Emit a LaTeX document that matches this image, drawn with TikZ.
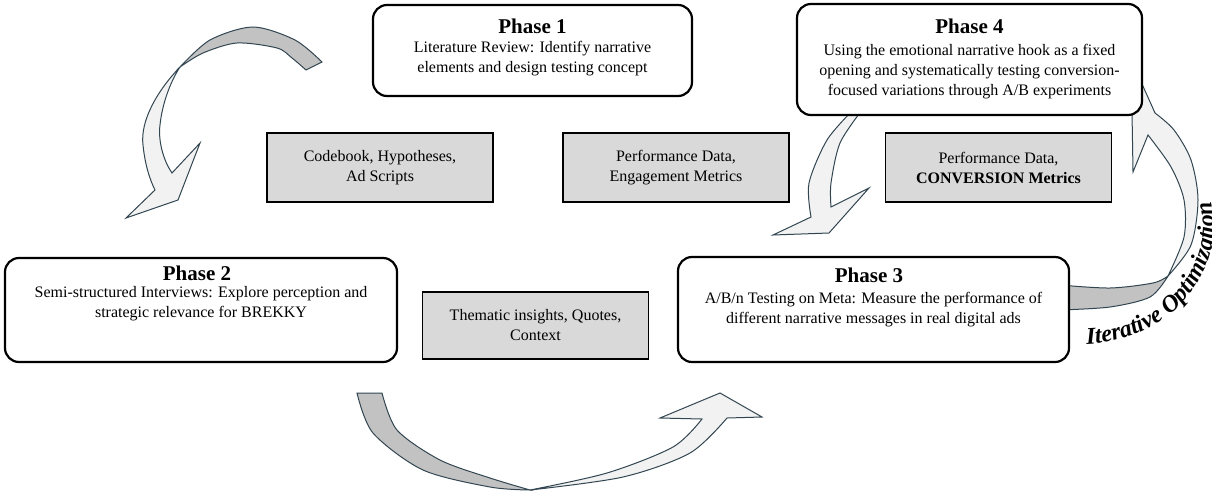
\documentclass[tikz,border=0pt]{standalone}
\usepackage{fontspec}
\setmainfont{Liberation Serif}
\usetikzlibrary{decorations.text}

\definecolor{arrowline}{RGB}{50,70,82}
\definecolor{arrowlight}{RGB}{242,242,242}
\definecolor{arrowdark}{RGB}{194,194,194}
\definecolor{boxgray}{RGB}{217,217,217}

\begin{document}
\begin{tikzpicture}[x=1pt, y=-1pt]
    \tikzstyle{phase} = [rectangle, rounded corners=14pt, draw=black, line width=2.2pt, fill=white]
    \tikzstyle{output} = [rectangle, draw=black, line width=1.8pt, fill=boxgray,
        minimum width=226pt, minimum height=69pt, align=center, font=\fontsize{16}{20}\selectfont]
    \tikzstyle{heading} = [anchor=base, inner sep=0pt, font=\fontsize{21}{24}\selectfont\bfseries]
    \tikzstyle{body} = [anchor=north, inner sep=0pt, align=center, font=\fontsize{16}{20}\selectfont]
    \tikzstyle{front} = [draw=arrowline, line width=1pt, fill=arrowlight]
    \tikzstyle{back} = [draw=arrowline, line width=1pt, fill=arrowdark]

    \useasboundingbox (0,0) rectangle (1212,490);
    \clip (0,0) rectangle (1212,490);

    % Curved arrows -------------------------------------
    % Phase 1 -> Phase 2
    \filldraw[back] plot[smooth] coordinates {(180,67) (210,40) (253,27) (295,40) (322,62)}
        -- (306,70) -- plot[smooth] coordinates {(306,70) (292,58) (277,48) (237,43) (203,53) (180,67)} -- cycle;
    \filldraw[front] (180,67) .. controls (158,90) and (140,120) .. (143,145)
        .. controls (145,165) and (150,180) .. (155,190)
        -- (126,218) -- (178,200) -- (200,143) -- (172,173)
        .. controls (163,160) and (158,140) .. (160,125)
        .. controls (162,105) and (170,82) .. (180,67) -- cycle;

    % Phase 2 -> Phase 3
    \filldraw[back] plot[smooth] coordinates {(357,393) (373,433) (423,470) (490,487) (530,490)}
        -- plot[smooth] coordinates {(530,490) (490,478) (440,460) (397,430) (382,393)} -- cycle;
    \filldraw[front] plot[smooth] coordinates {(530,490) (623,477) (690,453) (727,418)}
        -- (762,417) -- (720,393) -- (660,418) -- (702,419)
        -- plot[smooth] coordinates {(702,419) (673,447) (607,473) (530,490)} -- cycle;

    % Phase 3 -> Phase 4 (iterative loop)
    \filldraw[back] plot[smooth] coordinates {(1060,285) (1110,288) (1153,283) (1168,276)}
        -- plot[smooth] coordinates {(1168,276) (1150,297) (1110,307) (1060,310)} -- cycle;
    \filldraw[front] plot[smooth] coordinates {(1168,276) (1191,245) (1198,200) (1191,160) (1174,130) (1155,113)}
        -- (1142,84) -- (1132,112) -- (1133,172) -- (1148,135)
        -- plot[smooth] coordinates {(1148,135) (1171,167) (1184,200) (1184,237) (1168,276)} -- cycle;

    % Phase 4 -> Phase 3
    \filldraw[front] plot[smooth] coordinates {(853,110) (827,140) (809,183) (811,217)}
        -- (773,235) -- (829,233) -- (869,188) -- (831,207)
        -- plot[smooth] coordinates {(831,207) (831,183) (840,143) (862,110)} -- cycle;
    % ---------------------------------------------------

    % Phases --------------------------------------------
    \node[phase, minimum width=319pt, minimum height=91pt] (ph1) at (532.5,50.5) {};
    \node[heading] (ph1head) at (532.5,33) {Phase 1};
    \node[body] (ph1text) at (532.5,41) {Literature Review: Identify narrative\\elements and design testing concept};

    \node[phase, minimum width=345pt, minimum height=111pt] (ph4) at (969.5,59.5) {};
    \node[heading] (ph4head) at (969.5,33) {Phase 4};
    \node[body] (ph4text) at (969.5,44) {Using the emotional narrative hook as a fixed\\opening and systematically testing conversion-\\focused variations through A/B experiments};

    \node[phase, minimum width=392pt, minimum height=104pt] (ph2) at (201,310) {};
    \node[heading] (ph2head) at (197,280) {Phase 2};
    \node[body] (ph2text) at (201,286) {Semi-structured Interviews: Explore perception and\\strategic relevance for BREKKY};

    \node[phase, minimum width=391pt, minimum height=105pt] (ph3) at (873.5,309.5) {};
    \node[heading] (ph3head) at (869,282) {Phase 3};
    \node[body] (ph3text) at (873.5,292) {A/B/n Testing on Meta: Measure the performance of\\different narrative messages in real digital ads};
    % ---------------------------------------------------

    % Outputs
    \node[output] (codebook) at (380,167.5) {Codebook, Hypotheses,\\Ad Scripts};
    \node[output] (engagement) at (676,167.5) {Performance Data,\\Engagement Metrics};
    \node[output] (conversion) at (998.5,167.5) {Performance Data,\\\textbf{CONVERSION Metrics}};
    \node[output, minimum height=67pt] (thematic) at (535.5,325.5) {Thematic insights, Quotes,\\Context};

    % Loop label
    \path[decorate, decoration={text along path, text align=left,
        text={|\fontsize{24}{24}\selectfont\bfseries\itshape|Iterative Optimization}}]
        (1082,226) ++(88:132 and 118) arc[start angle=88, end angle=-40, x radius=132, y radius=118];
\end{tikzpicture}
\end{document}
